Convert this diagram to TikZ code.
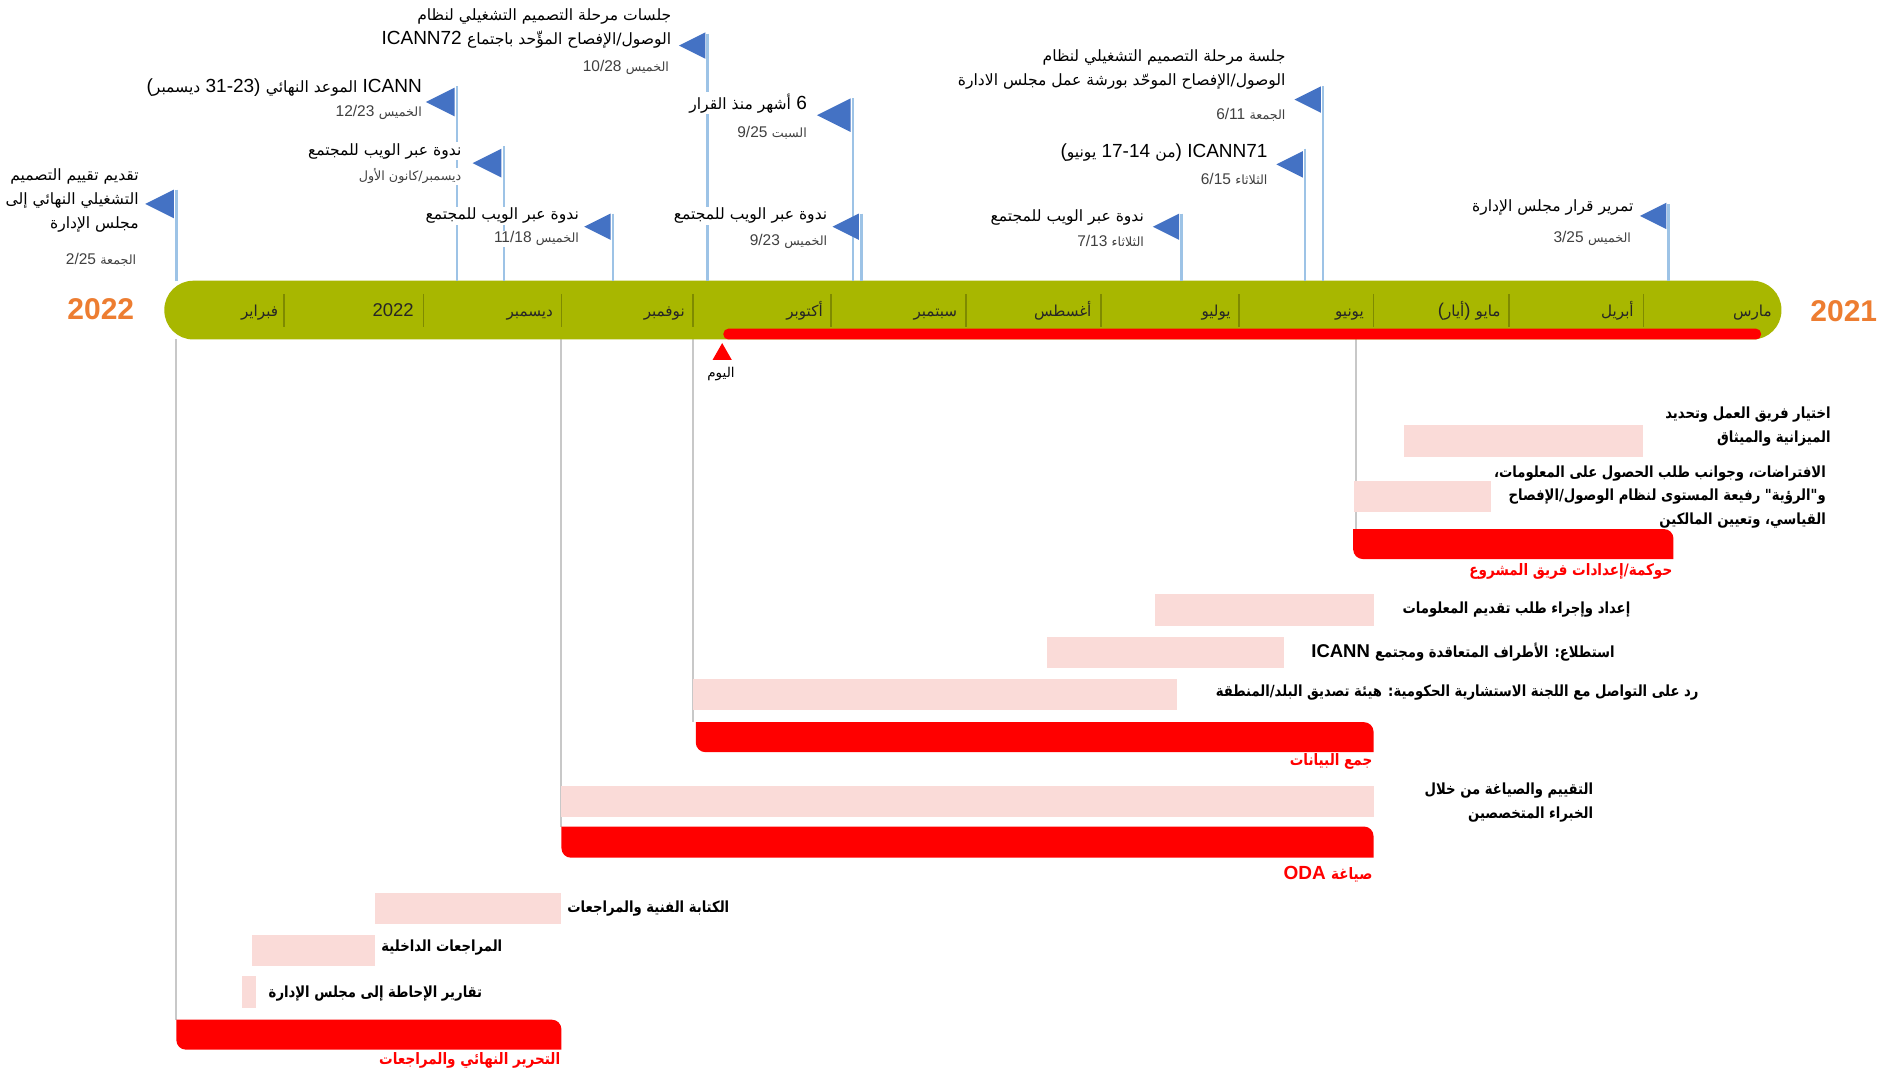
\documentclass[tikz,border=0pt]{standalone}
\usepackage{graphicx}
\usepackage{fontspec}
\setmainfont{Liberation Sans}
\newfontfamily\ar[Script=Arabic,Scale=0.82]{DejaVu Sans}
\newfontfamily\arb[Script=Arabic,Scale=0.83]{DejaVu Sans Bold}
\TeXXeTstate=1
\newcommand\AR[1]{{\ar\beginR#1\endR}}
\newcommand\ARB[1]{\scalebox{0.86}[1]{\arb\beginR#1\endR}}
\definecolor{bargreen}{HTML}{A8B700}
\definecolor{sepolive}{HTML}{7E8A00}
\definecolor{flagblue}{HTML}{4472C4}
\definecolor{poleblue}{HTML}{9DC3E6}
\definecolor{pinkbar}{HTML}{FADBD8}
\definecolor{sumred}{HTML}{FF0000}
\definecolor{guidegray}{HTML}{C8C8C8}
\definecolor{yearorange}{HTML}{ED7D31}
\definecolor{dategray}{HTML}{404040}
\definecolor{monthtext}{HTML}{262626}
\tikzset{
  pole/.style={draw=poleblue,line width=2.6pt},
  guide/.style={draw=guidegray,line width=2pt},
  mtitle/.style={font=\fontsize{19}{24}\selectfont,align=right,fill=white,inner xsep=1.5pt,inner ysep=1pt,text=black},
  mdate/.style={font=\fontsize{15.5}{19}\selectfont,fill=white,inner xsep=1.5pt,inner ysep=1pt,text=dategray},
  tasklabel/.style={font=\bfseries\fontsize{18.5}{23.5}\selectfont,align=right,inner sep=1pt,text=black},
  sumlabel/.style={font=\bfseries\fontsize{19}{22}\selectfont,inner sep=1pt,text=sumred},
  monthlabel/.style={font=\fontsize{18.5}{22}\selectfont,text=monthtext,inner sep=0pt,anchor=base east},
  yearlabel/.style={font=\bfseries\fontsize{30}{34}\selectfont,text=yearorange,inner sep=0pt}
}
\newcommand\sumbar[4]{\fill[sumred] (#1,#3) -- (#2-8,#3) arc[start angle=270,end angle=360,radius=8] -- (#2,#4) -- (#1+8,#4) arc[start angle=90,end angle=180,radius=8] -- cycle;}
\newcommand\flagtri[3]{\fill[flagblue] (#1-2,#2-#3) -- (#1-2,#2+#3) -- (#1-2-2*#3,#2) -- cycle;}
\begin{document}
\begin{tikzpicture}[x=1.2pt,y=-1.2pt]
\useasboundingbox (0,0) rectangle (1568,895);
\fill[white] (0,0) rectangle (1568,895);
% guides
\coordinate (g1) at (147,283); \coordinate (g1e) at (147,850);
\coordinate (g2) at (468,283); \coordinate (g2e) at (468,689);
\coordinate (g3) at (578,283); \coordinate (g3e) at (578,602);
\coordinate (g4) at (1130,283); \coordinate (g4e) at (1130,441);
\draw[guide] (g1) -- (g1e);
\draw[guide] (g2) -- (g2e);
\draw[guide] (g3) -- (g3e);
\draw[guide] (g4) -- (g4e);
% timeline bar
\fill[bargreen,rounded corners=29pt] (137,234) rectangle (1485,283);
\fill[sumred,rounded corners=5pt] (603,274) rectangle (1468,283);
\foreach \s in {237,353,468,578,693,805,918,1033,1145,1258,1370}
  \draw[sepolive,line width=1.8pt] (\s,245) -- (\s,273);
\node[monthlabel] (m3) at (1477,264) {\AR{مارس}};
\node[monthlabel] (m4) at (1362,264) {\AR{أبريل}};
\node[monthlabel] (m5) at (1251,264) {(\AR{أيار}) \AR{مايو}};
\node[monthlabel] (m6) at (1137,264) {\AR{يونيو}};
\node[monthlabel] (m7) at (1026,264) {\AR{يوليو}};
\node[monthlabel] (m8) at (910,264) {\AR{أغسطس}};
\node[monthlabel] (m9) at (798,264) {\AR{سبتمبر}};
\node[monthlabel] (m10) at (686,264) {\AR{أكتوبر}};
\node[monthlabel] (m11) at (571,264) {\AR{نوفمبر}};
\node[monthlabel] (m12) at (461,264) {\AR{ديسمبر}};
\node[monthlabel] (m1) at (345,264) {2022};
\node[monthlabel] (m2) at (232,264) {\AR{فبراير}};
\node[yearlabel] (y22) at (84,258) {2022};
\node[yearlabel] (y21) at (1537,259) {2021};
% today
\fill[sumred] (602,286) -- (610,300) -- (594,300) -- cycle;
\node[font=\fontsize{16.5}{19}\selectfont,fill=white,inner sep=1pt] (today) at (601,312) {\AR{اليوم}};
% poles
\draw[pole] (147,158) -- (147,234);
\draw[pole] (420,122) -- (420,234);
\draw[pole] (381,72) -- (381,234);
\draw[pole] (511,178) -- (511,234);
\draw[pole] (590,28) -- (590,234);
\draw[pole] (711,82) -- (711,234);
\draw[pole] (718,178) -- (718,234);
\draw[pole] (1103,72) -- (1103,234);
\draw[pole] (1088,124) -- (1088,234);
\draw[pole] (985,178) -- (985,234);
\draw[pole] (1391,170) -- (1391,234);
% triangles
\flagtri{147}{170}{12}
\flagtri{420}{136}{12}
\flagtri{381}{85}{12}
\flagtri{511}{189}{11}
\flagtri{590}{38}{11}
\flagtri{711}{96}{14}
\flagtri{718}{189}{11}
\flagtri{1103}{83}{11}
\flagtri{1088}{137}{11}
\flagtri{985}{189}{11}
\flagtri{1391}{180}{11}
% milestone texts
\node[mtitle,anchor=east] (t1) at (117,167) {\AR{تقديم تقييم التصميم}\\\AR{التشغيلي النهائي إلى}\\\AR{مجلس الإدارة}};
\node[mdate,anchor=east] (d1) at (115,217) {2/25 \AR{الجمعة}};
\node[mtitle,anchor=east] (t3) at (353,73) {(\AR{ديسمبر} 31-23) \AR{الموعد النهائي} ICANN};
\node[mdate,anchor=east] (d3) at (353,94) {12/23 \AR{الخميس}};
\node[mtitle,anchor=east] (t2) at (386,126) {\AR{ندوة عبر الويب للمجتمع}};
\node[mdate,anchor=east] (d2) at (386,147) {\AR{ديسمبر/كانون الأول}};
\node[mtitle,anchor=east] (t4) at (484,180) {\AR{ندوة عبر الويب للمجتمع}};
\node[mdate,anchor=east] (d4) at (484,199) {11/18 \AR{الخميس}};
\node[mtitle,anchor=east] (t5) at (561,24) {\AR{جلسات مرحلة التصميم التشغيلي لنظام}\\ICANN72 \AR{الوصول/الإفصاح المؤّحد باجتماع}};
\node[mdate,anchor=east] (d5) at (559,56) {10/28 \AR{الخميس}};
\node[mtitle,anchor=east] (t6) at (674,86) {\AR{أشهر منذ القرار} 6};
\node[mdate,anchor=east] (d6) at (674,111) {9/25 \AR{السبت}};
\node[mtitle,anchor=east] (t7) at (691,180) {\AR{ندوة عبر الويب للمجتمع}};
\node[mdate,anchor=east] (d7) at (691,201) {9/23 \AR{الخميس}};
\node[mtitle,anchor=east] (t8) at (1073,58) {\AR{جلسة مرحلة التصميم التشغيلي لنظام}\\\AR{الوصول/الإفصاح الموحّد بورشة عمل مجلس الادارة}};
\node[mdate,anchor=east] (d8) at (1073,96) {6/11 \AR{الجمعة}};
\node[mtitle,anchor=east] (t9) at (1058,127) {(\AR{يونيو} 17-14 \AR{من}) ICANN71};
\node[mdate,anchor=east] (d9) at (1058,149) {6/15 \AR{الثلاثاء}};
\node[mtitle,anchor=east] (t10) at (955,181) {\AR{ندوة عبر الويب للمجتمع}};
\node[mdate,anchor=east] (d10) at (955,201) {7/13 \AR{الثلاثاء}};
\node[mtitle,anchor=east] (t11) at (1363,173) {\AR{تمرير قرار مجلس الإدارة}};
\node[mdate,anchor=east] (d11) at (1361,199) {3/25 \AR{الخميس}};
% gantt bars
\fill[pinkbar] (1170,354) rectangle (1370,381);
\fill[pinkbar] (1129,401) rectangle (1243,427);
\sumbar{1128}{1395}{441}{466}
\fill[pinkbar] (963,495) rectangle (1145,522);
\fill[pinkbar] (873,531) rectangle (1070,557);
\fill[pinkbar] (578,566) rectangle (981,592);
\sumbar{580}{1145}{602}{627}
\fill[pinkbar] (468,655) rectangle (1145,681);
\sumbar{468}{1145}{689}{715}
\fill[pinkbar] (313,744) rectangle (468,770);
\fill[pinkbar] (210,779) rectangle (313,805);
\fill[pinkbar] (202,814) rectangle (213,840);
\sumbar{147}{468}{850}{875}
% gantt labels
\node[tasklabel,anchor=east] (l1) at (1527,355.5) {\ARB{اختيار فريق العمل وتحديد}\\\ARB{الميزانية والميثاق}};
\node[tasklabel,anchor=east] (l2) at (1523,414) {\ARB{الافتراضات، وجوانب طلب الحصول على المعلومات،}\\\ARB{و"الرؤية" رفيعة المستوى لنظام الوصول/الإفصاح}\\\ARB{القياسي، وتعيين المالكين}};
\node[sumlabel,anchor=east] (s1) at (1395,476) {\ARB{حوكمة/إعدادات فريق المشروع}};
\node[tasklabel,anchor=east] (l3) at (1360,508) {\ARB{إعداد وإجراء طلب تقديم المعلومات}};
\node[tasklabel,anchor=east] (l4) at (1347,544) {ICANN \ARB{استطلاع: الأطراف المتعاقدة ومجتمع}};
\node[tasklabel,anchor=east] (l5) at (1417,577) {\ARB{رد على التواصل مع اللجنة الاستشارية الحكومية: هيئة تصديق البلد/المنطقة}};
\node[sumlabel,anchor=east] (s2) at (1145,635) {\ARB{جمع البيانات}};
\node[tasklabel,anchor=east] (l6) at (1329,669) {\ARB{التقييم والصياغة من خلال}\\\ARB{الخبراء المتخصصين}};
\node[sumlabel,anchor=east] (s3) at (1145,729) {ODA \ARB{صياغة}};
\node[tasklabel,anchor=west] (l7) at (472,757) {\ARB{الكتابة الفنية والمراجعات}};
\node[tasklabel,anchor=west] (l8) at (317,790) {\ARB{المراجعات الداخلية}};
\node[tasklabel,anchor=west] (l9) at (223,828) {\ARB{تقارير الإحاطة إلى مجلس الإدارة}};
\node[sumlabel,anchor=east] (s4) at (468,884) {\ARB{التحرير النهائي والمراجعات}};
\end{tikzpicture}
\end{document}
